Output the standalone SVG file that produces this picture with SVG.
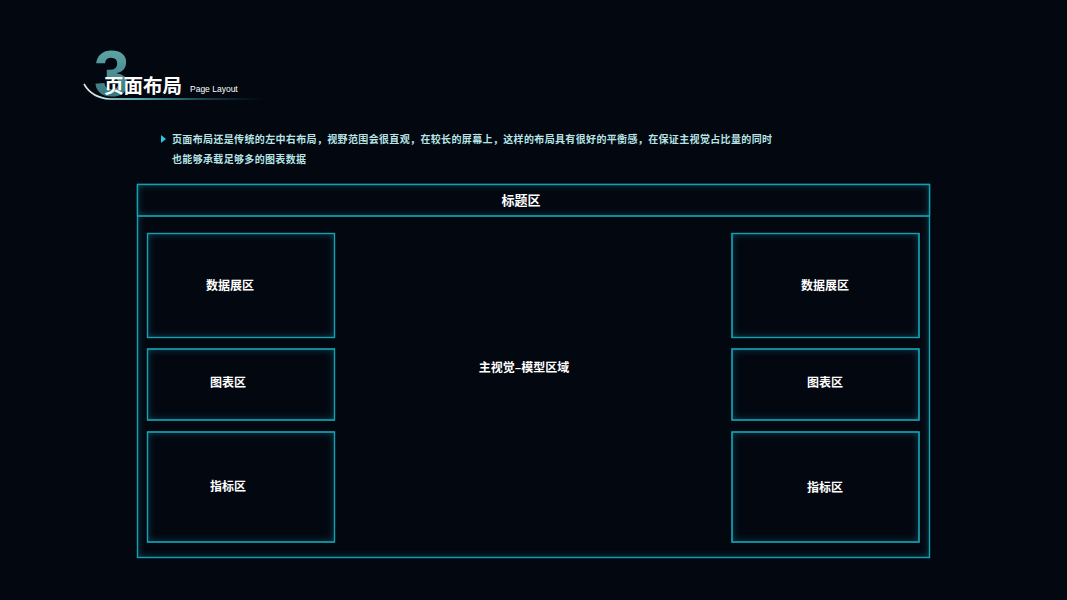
<svg xmlns="http://www.w3.org/2000/svg" width="1067" height="600" viewBox="0 0 1067 600">
<defs>
<style>
.t{font-family:"Noto Sans CJK SC","Noto Sans",sans-serif;fill:#ffffff;font-weight:bold;text-anchor:middle}
.box{fill:#030710;stroke:#13a0b0;stroke-width:1.2}
.line{fill:none;stroke:#13a0b0;stroke-width:1.2}
.desc{font-family:"Noto Sans CJK SC","Noto Sans",sans-serif;fill:#b8e4e6;font-size:10px;font-weight:bold}
</style>
<filter id="ig" x="-10%" y="-20%" width="120%" height="140%" color-interpolation-filters="sRGB">
<feFlood flood-color="#1590ad" flood-opacity="0.55" result="f"/>
<feComposite in="f" in2="SourceAlpha" operator="out" result="o"/>
<feGaussianBlur in="o" stdDeviation="4" result="b"/>
<feComposite in="b" in2="SourceAlpha" operator="in" result="g"/>
<feMerge><feMergeNode in="SourceGraphic"/><feMergeNode in="g"/></feMerge>
</filter>
<linearGradient id="three" x1="0" y1="0" x2="0" y2="1">
<stop offset="0" stop-color="#66b0ae"/>
<stop offset="1" stop-color="#2f6a74"/>
</linearGradient>
<linearGradient id="swoosh" x1="0" y1="0" x2="1" y2="0">
<stop offset="0" stop-color="#ffffff" stop-opacity="0.9"/>
<stop offset="0.3" stop-color="#6fe3ea"/>
<stop offset="1" stop-color="#1a6f80" stop-opacity="0"/>
</linearGradient>
</defs>
<rect width="1067" height="600" fill="#030710"/>

<g id="heading">
<text x="94" y="96" font-family="Liberation Sans,Arial,sans-serif" font-size="64" font-weight="bold" fill="url(#three)">3</text>
<path d="M84 84 Q92 98 110 99 L265 99" fill="none" stroke="url(#swoosh)" stroke-width="1.6"/>
<text x="104" y="93" font-family="Noto Sans CJK SC,sans-serif" font-size="19.5" font-weight="bold" fill="#ffffff">页面布局</text>
<text x="190" y="92" font-family="Liberation Sans,Arial,sans-serif" font-size="8.5" fill="#ffffff">Page Layout</text>
</g>

<g id="description">
<path d="M161 135 L166 139 L161 143 Z" fill="#2fc3e0"/>
<text class="desc" x="172" y="143" textLength="600" lengthAdjust="spacing">页面布局还是传统的左中右布局，视野范围会很直观，在较长的屏幕上，这样的布局具有很好的平衡感，在保证主视觉占比量的同时</text>
<text class="desc" x="172" y="163" textLength="134" lengthAdjust="spacing">也能够承载足够多的图表数据</text>
</g>

<g id="frame">
<rect class="box" x="137.5" y="184.5" width="792" height="373" filter="url(#ig)"/>
<rect class="line" x="137.5" y="184.5" width="792" height="373"/>
</g>
<g id="title-area">
<rect class="box" x="137.5" y="184.5" width="792" height="31.5" filter="url(#ig)"/>
<rect class="line" x="137.5" y="184.5" width="792" height="31.5"/>
<text class="t" x="521" y="205" font-size="13">标题区</text>
</g>

<g id="left-data">
<rect class="box" x="147.5" y="233.5" width="187" height="104" filter="url(#ig)"/>
<rect class="line" x="147.5" y="233.5" width="187" height="104"/>
<text class="t" x="230" y="290" font-size="12">数据展区</text>
</g>
<g id="left-chart">
<rect class="box" x="147.5" y="349" width="187" height="71" filter="url(#ig)"/>
<rect class="line" x="147.5" y="349" width="187" height="71"/>
<text class="t" x="228" y="387" font-size="12">图表区</text>
</g>
<g id="left-index">
<rect class="box" x="147.5" y="432" width="187" height="110" filter="url(#ig)"/>
<rect class="line" x="147.5" y="432" width="187" height="110"/>
<text class="t" x="228" y="491" font-size="12">指标区</text>
</g>

<g id="main-visual">
<text class="t" x="524" y="372" font-size="12">主视觉–模型区域</text>
</g>

<g id="right-data">
<rect class="box" x="732" y="233.5" width="187" height="104" filter="url(#ig)"/>
<rect class="line" x="732" y="233.5" width="187" height="104"/>
<text class="t" x="825" y="290" font-size="12">数据展区</text>
</g>
<g id="right-chart">
<rect class="box" x="732" y="349" width="187" height="71" filter="url(#ig)"/>
<rect class="line" x="732" y="349" width="187" height="71"/>
<text class="t" x="825" y="387" font-size="12">图表区</text>
</g>
<g id="right-index">
<rect class="box" x="732" y="432" width="187" height="110" filter="url(#ig)"/>
<rect class="line" x="732" y="432" width="187" height="110"/>
<text class="t" x="825" y="492" font-size="12">指标区</text>
</g>

<g id="connectors"></g>
</svg>
